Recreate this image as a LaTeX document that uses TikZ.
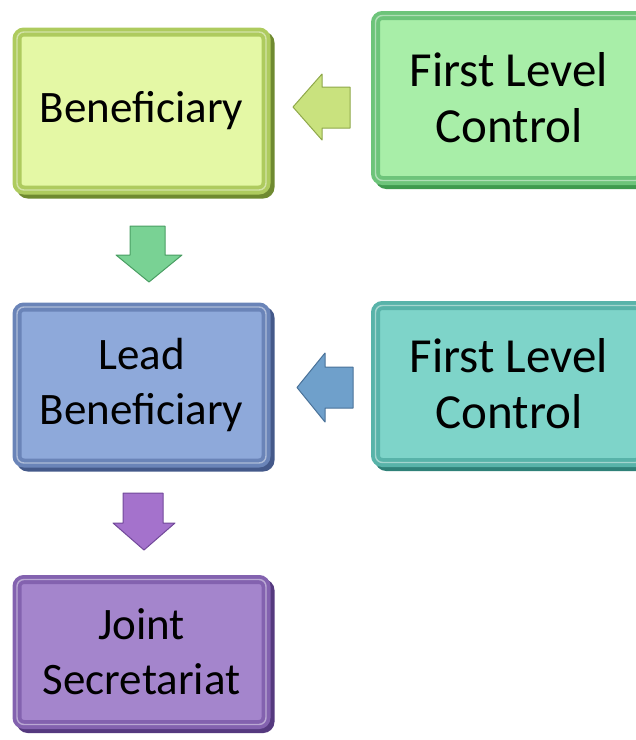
\documentclass[tikz,border=0pt]{standalone}
\usepackage{fontspec}
\setmainfont{Carlito}
\usetikzlibrary{shadows}
\definecolor{gface}{HTML}{E4F8A5}\definecolor{gframe}{HTML}{AECB5E}\definecolor{gdark}{HTML}{6F8A30}
\definecolor{hface}{HTML}{A8EEA8}\definecolor{hframe}{HTML}{6DC47A}\definecolor{hdark}{HTML}{3F9A4E}
\definecolor{bface}{HTML}{8EA9DA}\definecolor{bframe}{HTML}{6A84B8}\definecolor{bdark}{HTML}{44598A}
\definecolor{tface}{HTML}{7ED4C9}\definecolor{tframe}{HTML}{58B3A9}\definecolor{tdark}{HTML}{2F8178}
\definecolor{pface}{HTML}{A485CC}\definecolor{pframe}{HTML}{8362AF}\definecolor{pdark}{HTML}{55397F}
\definecolor{aone}{HTML}{C9E27E}\definecolor{aonedark}{HTML}{8FA84A}
\definecolor{atwo}{HTML}{79D294}\definecolor{atwodark}{HTML}{4A9E63}
\definecolor{athree}{HTML}{6FA0CB}\definecolor{athreedark}{HTML}{4A7299}
\definecolor{afour}{HTML}{A472CC}\definecolor{afourdark}{HTML}{72499A}
\tikzset{
  bev/.style n args={3}{rectangle, rounded corners=7pt, fill=#1, draw=#2, line width=9pt,
    align=center, font=\fontsize{45}{55}\selectfont, text=black,
    drop shadow={shadow xshift=4pt, shadow yshift=-4pt, draw=#3, fill=#3, line width=9pt, opacity=1},
    postaction={draw=white, line width=1.4pt, opacity=0.45}},
  bigtext/.style={font=\fontsize{49}{56}\selectfont},
  blk/.style n args={2}{fill=#1, draw=#2, line width=1pt, line join=round}
}
\begin{document}
\begin{tikzpicture}[x=1pt,y=-1pt]
\useasboundingbox (0,0) rectangle (636,740);
\node[bev={gface}{gframe}{gdark}, minimum width=249pt, minimum height=158pt] (ben) at (141.5,111) {Beneficiary};
\node[bev={hface}{hframe}{hdark}, bigtext, minimum width=267pt, minimum height=165pt] (flc1) at (509,98) {First Level\\Control};
\node[bev={bface}{bframe}{bdark}, minimum width=249pt, minimum height=156pt] (lead) at (141.5,385) {Lead\\Beneficiary};
\node[bev={tface}{tframe}{tdark}, bigtext, minimum width=267pt, minimum height=157pt] (flc2) at (509,384) {First Level\\Control};
\node[bev={pface}{pframe}{pdark}, minimum width=249pt, minimum height=145pt] (js) at (141.5,652) {Joint\\Secretariat};
% block arrows
\path[blk={aone}{aonedark}] (293,107) -- (322,74) -- (322,87) -- (350,87) -- (350,128) -- (322,128) -- (322,140) -- cycle;
\path[blk={athree}{athreedark}] (297,387.5) -- (325,353) -- (325,367) -- (353,367) -- (353,408) -- (325,408) -- (325,422) -- cycle;
\path[blk={atwo}{atwodark}] (149,282) -- (116,255) -- (130,255) -- (130,226) -- (165,226) -- (165,255) -- (182,255) -- cycle;
\path[blk={afour}{afourdark}] (144,550) -- (113,523) -- (123,523) -- (123,493) -- (163,493) -- (163,523) -- (175,523) -- cycle;
\end{tikzpicture}
\end{document}
